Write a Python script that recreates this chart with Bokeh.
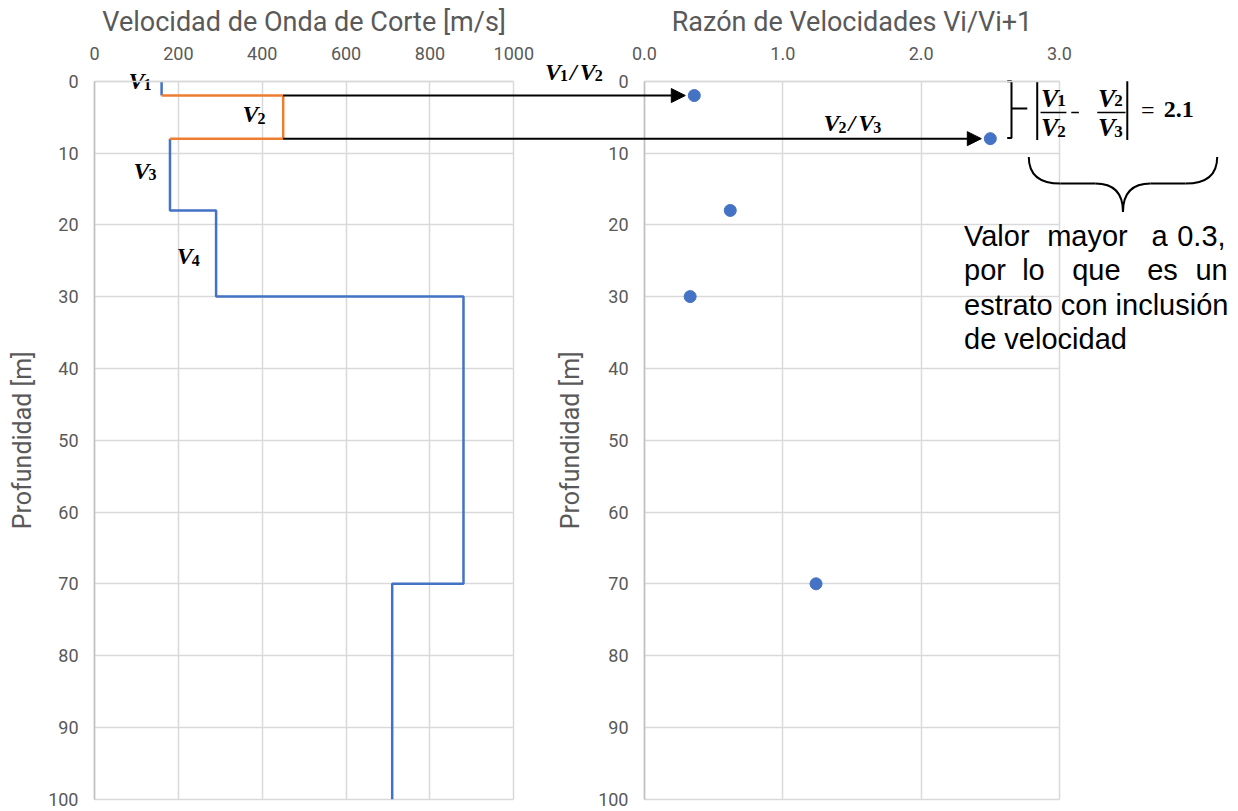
import math
from bokeh.plotting import figure
from bokeh.models import (Range1d, FixedTicker, PrintfTickFormatter, Arrow, NormalHead,
                          LinearAxis, Grid)
from bokeh.core.properties import value
from bokeh.embed import file_html
from bokeh.resources import INLINE

# ---------------------------------------------------------------- data
# Shear-wave velocity per stratum
layer_top_m = [0, 2, 8, 18, 30, 70]
layer_bottom_m = [2, 8, 18, 30, 70, 100]
vs_m_s = [160, 450, 180, 290, 880, 710]
inclusion_layer = 1          # stratum with the velocity inversion (V2)

# Velocity ratio Vi/Vi+1 at each interface
ratio_depth_m = [2, 8, 18, 30, 70]
ratio_value = [0.36, 2.50, 0.62, 0.33, 1.24]

# Axis ticks
vs_ticks = [0, 200, 400, 600, 800, 1000]
ratio_ticks = [0, 1, 2, 3]
depth_ticks = list(range(0, 101, 10))

jump_value = "2.1"
note_lines = ["Valor mayor a 0.3,", "por lo que es un", "estrato con inclusión", "de velocidad"]

# ---------------------------------------------------------------- canvas geometry
W, H = 1238, 811
VS_MAX, RATIO_MAX, DEPTH_MAX = 1000, 3, 100
LEFT0, VS_PX = 94.0, 419.3 / VS_MAX          # velocity panel: origin pixel, px per m/s
RIGHT0, RATIO_PX = 644.0, 415.0 / RATIO_MAX  # ratio panel: origin pixel, px per unit
TOP0, DEPTH_PX = 80.7, 7.18                  # depth 0 pixel, px per metre

vs_range = Range1d(-LEFT0 / VS_PX, (W - LEFT0) / VS_PX)
ratio_range = Range1d(-RIGHT0 / RATIO_PX, (W - RIGHT0) / RATIO_PX)
depth_range = Range1d((H - TOP0) / DEPTH_PX, -TOP0 / DEPTH_PX)


def vs_to_ratio(v):
    return (LEFT0 + v * VS_PX - RIGHT0) / RATIO_PX


def lift(size):
    """Screen offset that puts an alphabetic-baseline text on its baseline."""
    return -0.36 * size


BLUE = "#4472C4"
ORANGE = "#ED7D31"
GRID = "#d9d9d9"
AXIS = "#bfbfbf"
TXT = "#595959"
FONT = "Roboto"
MATH = "Liberation Serif"

p = figure(width=W, height=H, x_range=vs_range, y_range=depth_range,
           x_axis_location=None, y_axis_location=None, output_backend="svg",
           toolbar_location=None, min_border=0)
p.extra_x_ranges = {"ratio": ratio_range}
p.outline_line_color = None
for g in p.grid:
    g.visible = False


def add_panel(rng, x_ticks, x_max, title, fmt=None):
    xa = LinearAxis(x_range_name=rng, ticker=FixedTicker(ticks=x_ticks),
                    bounds=(0, x_max), fixed_location=0)
    ya = LinearAxis(x_range_name=rng, ticker=FixedTicker(ticks=depth_ticks),
                    bounds=(0, DEPTH_MAX), fixed_location=0)
    if fmt is not None:
        xa.formatter = fmt
    for ax in (xa, ya):
        ax.major_tick_line_color = None
        ax.minor_tick_line_color = None
        ax.major_tick_out = 0
        ax.major_tick_in = 0
        ax.minor_tick_out = 0
        ax.minor_tick_in = 0
        ax.major_label_text_font = FONT
        ax.major_label_text_font_size = "18px"
        ax.major_label_text_color = TXT
        ax.axis_line_width = 1.5
    xa.axis_line_color = GRID
    ya.axis_line_color = AXIS
    xa.major_label_standoff = 21
    ya.major_label_standoff = 16
    p.add_layout(xa, "above")
    p.add_layout(ya, "left")

    p.add_layout(Grid(dimension=0, x_range_name=rng, ticker=FixedTicker(ticks=x_ticks),
                      bounds=(0, x_max), cross_bounds=(0, DEPTH_MAX),
                      grid_line_color=GRID, grid_line_width=1.5))
    p.add_layout(Grid(dimension=1, x_range_name=rng, ticker=FixedTicker(ticks=depth_ticks),
                      bounds=(0, DEPTH_MAX), cross_bounds=(0, x_max),
                      grid_line_color=GRID, grid_line_width=1.5))

    # panel title
    p.text(x=[x_max / 2], y=[-6.92], text=[title], x_range_name=rng, y_offset=lift(27),
           text_font=value(FONT), text_font_size="27px", text_color=TXT,
           text_align="center", text_baseline="alphabetic")


add_panel("default", vs_ticks, VS_MAX, "Velocidad de Onda de Corte [m/s]")
add_panel("ratio", ratio_ticks, RATIO_MAX, "Razón de Velocidades Vi/Vi+1",
          PrintfTickFormatter(format="%.1f"))

for rng, lx in (("default", -171.7), ("ratio", -0.535)):
    p.text(x=[lx], y=[DEPTH_MAX / 2], text=["Profundidad [m]"], angle=math.pi / 2,
           x_range_name=rng, text_font=value(FONT), text_font_size="25px", text_color=TXT,
           text_align="center", text_baseline="middle")

# ---------------------------------------------------------------- velocity profile
xs, ys = [], []
for v, top, bot in zip(vs_m_s, layer_top_m, layer_bottom_m):
    xs += [v, v]
    ys += [top, bot]
k = inclusion_layer
p.line(xs[:2 * k], ys[:2 * k], line_color=BLUE, line_width=2.5)
p.line(xs[2 * k + 2:], ys[2 * k + 2:], line_color=BLUE, line_width=2.5)
p.line(xs[2 * k - 1:2 * k + 3], ys[2 * k - 1:2 * k + 3], line_color=ORANGE, line_width=2.5)

# ---------------------------------------------------------------- velocity ratios
p.scatter(ratio_value, ratio_depth_m, size=12, color=BLUE, x_range_name="ratio")

# arrows from the inclusion boundaries to their ratios
inc_depths = [layer_top_m[k], layer_bottom_m[k]]
gap = 0.065
for j, d in enumerate(inc_depths):
    p.add_layout(Arrow(end=NormalHead(size=14, fill_color="black", line_color="black", line_width=1),
                       x_start=vs_to_ratio(vs_m_s[k]), y_start=d,
                       x_end=ratio_value[k - 1 + j] - gap, y_end=d, x_range_name="ratio",
                       line_color="black", line_width=2))


# ---------------------------------------------------------------- math-style symbols
def symbol(parts, x, y, rng="default", v_size=24, sub_size=16, sub_drop=4):
    """Draw a sequence like V1/V2: subscripted V's and '/' joined left to right."""
    dx = 0.0
    vw = 0.667 * v_size
    base = lift(v_size)
    for part in parts:
        if part == "/":
            p.text(x=[x], y=[y], text=["/"], x_offset=dx + 1, y_offset=base, x_range_name=rng,
                   text_font=value(MATH), text_font_style="bold italic",
                   text_font_size=f"{v_size}px", text_color="black",
                   text_align="left", text_baseline="alphabetic")
            dx += 0.45 * v_size
        else:
            p.text(x=[x], y=[y], text=["V"], x_offset=dx, y_offset=base, x_range_name=rng,
                   text_font=value(MATH), text_font_style="bold italic",
                   text_font_size=f"{v_size}px", text_color="black",
                   text_align="left", text_baseline="alphabetic")
            p.text(x=[x], y=[y], text=[str(part)], x_offset=dx + vw - 1, y_offset=base + sub_drop,
                   x_range_name=rng, text_font=value(MATH), text_font_style="bold",
                   text_font_size=f"{sub_size}px", text_color="black",
                   text_align="left", text_baseline="alphabetic")
            dx += vw + 0.5 * sub_size


# layer labels in the velocity panel
for i, (lx, ly) in enumerate([(81, 1.16), (353, 5.8), (93, 13.65), (196, 25.6)]):
    symbol([i + 1], lx, ly)

# ratio labels on the arrows
symbol([1, "/", 2], -0.719, -0.1, rng="ratio")
symbol([2, "/", 3], 1.294, 7.06, rng="ratio")

# bracket grouping the two ratios
bx, bx_in, bx_out = 2.653, 2.622, 2.767
p.multi_line(xs=[[bx_in, bx, bx, bx_in], [bx, bx_out]],
             ys=[[0.0, 0.0, 7.9, 7.9], [3.8, 3.8]], x_range_name="ratio",
             line_color="black", line_width=2)

# |V1/V2 - V2/V3| = 2.1
p.segment(x0=[2.839, 3.49], y0=[0.0, 0.0], x1=[2.839, 3.49], y1=[8.2, 8.2],
          x_range_name="ratio", line_color="black", line_width=2)
p.segment(x0=[2.863, 3.273, 3.085], y0=[4.36] * 3, x1=[3.05, 3.477, 3.14], y1=[4.36] * 3,
          x_range_name="ratio", line_color="black", line_width=1.5)
for fx, (num, den) in zip([2.866, 3.278], [(1, 2), (2, 3)]):
    symbol([num], fx, 3.75, rng="ratio", v_size=26, sub_size=17, sub_drop=2)
    symbol([den], fx, 7.75, rng="ratio", v_size=26, sub_size=17, sub_drop=4)
p.text(x=[3.59], y=[5.2], text=["="], x_range_name="ratio", y_offset=lift(24),
       text_font=value(MATH), text_font_size="24px", text_color="black",
       text_align="left", text_baseline="alphabetic")
p.text(x=[3.754], y=[5.2], text=[jump_value], x_range_name="ratio", y_offset=lift(24),
       text_font=value(MATH), text_font_style="bold", text_font_size="24px",
       text_color="black", text_align="left", text_baseline="alphabetic")

# curly brace under the expression
bx0, bx1 = 2.778, 4.140
bxm = (bx0 + bx1) / 2
by_top, by_flat, by_tip = 10.54, 14.25, 18.2
cdx, tdx = 0.23, 0.2
p.quadratic(x0=[bx0, bxm - tdx, bxm, bx1 - cdx],
            y0=[by_top, by_flat, by_tip, by_flat],
            x1=[bx0 + cdx, bxm, bxm + tdx, bx1],
            y1=[by_flat, by_tip, by_flat, by_top],
            cx=[bx0, bxm, bxm, bx1],
            cy=[by_flat] * 4, x_range_name="ratio",
            line_color="black", line_width=2)
p.segment(x0=[bx0 + cdx, bxm + tdx], y0=[by_flat] * 2, x1=[bxm - tdx, bx1 - cdx], y1=[by_flat] * 2,
          x_range_name="ratio", line_color="black", line_width=2)

# note (justified paragraph)
line_base = [22.98, 27.79, 32.59, 37.33]
word_x = [[2.31, 2.911, 3.665, 3.851],
          [2.31, 2.730, 3.092, 3.634, 3.983],
          [2.31],
          [2.31]]
tx, ty, tt = [], [], []
for i, line in enumerate(note_lines):
    words = line.split() if len(word_x[i]) > 1 else [line]
    for w, x in zip(words, word_x[i]):
        tx.append(x)
        ty.append(line_base[i])
        tt.append(w)
p.text(x=tx, y=ty, text=tt, x_range_name="ratio", y_offset=lift(29),
       text_font=value("Liberation Sans"), text_font_size="29px", text_color="black",
       text_align="left", text_baseline="alphabetic")

open("out.html", "w").write(file_html(p, INLINE))
